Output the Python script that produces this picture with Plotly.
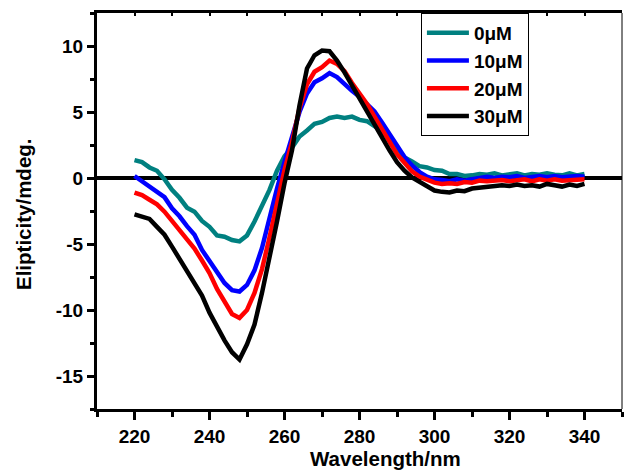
import plotly.graph_objects as go

wavelength = list(range(220, 341, 2))

c0uM = [1.35, 1.2, 0.8, 0.55, -0.1, -0.9, -1.5, -2.25, -2.55, -3.25,
        -3.7, -4.35, -4.45, -4.7, -4.8, -4.35, -3.3, -2.1, -0.9, 0.55,
        1.65, 2.3, 3.15, 3.6, 4.1, 4.25, 4.55, 4.65, 4.55, 4.65,
        4.4, 4.3, 3.9, 3.55, 2.95, 2.25, 1.55, 1.25, 0.9, 0.8,
        0.6, 0.55, 0.3, 0.3, 0.15, 0.2, 0.3, 0.25, 0.35, 0.2,
        0.3, 0.35, 0.2, 0.3, 0.25, 0.35, 0.25, 0.2, 0.35, 0.2, 0.3]

c10uM = [0.15, -0.25, -0.6, -1.1, -1.45, -2.3, -2.9, -3.65, -4.3, -5.45,
         -6.3, -7.25, -7.95, -8.5, -8.6, -8.1, -7.0, -5.3, -3.0, -0.8,
         1.2, 3.0, 5.0, 6.4, 7.25, 7.55, 7.95, 7.65, 7.1, 6.6,
         6.15, 5.6, 5.05, 4.2, 3.3, 2.35, 1.6, 0.95, 0.45, 0.1,
         -0.1, -0.15, -0.25, -0.1, -0.2, -0.1, 0.0, 0.1, 0.0, 0.1,
         0.05, 0.15, 0.0, 0.05, 0.15, 0.05, 0.15, 0.05, 0.1, 0.15, 0.1]

c20uM = [-1.1, -1.3, -1.65, -2.0, -2.55, -3.2, -3.95, -4.65, -5.35, -6.25,
         -7.2, -8.4, -9.4, -10.3, -10.6, -10.0, -8.7, -6.9, -4.5, -1.9,
         0.6, 2.7, 5.3, 7.1, 8.05, 8.4, 8.9, 8.65, 8.1, 7.2,
         6.4, 5.6, 4.65, 3.75, 2.7, 1.8, 1.15, 0.5, 0.1, -0.15,
         -0.35, -0.45, -0.4, -0.45, -0.3, -0.35, -0.2, -0.25, -0.2, -0.15,
         -0.25, -0.15, -0.1, -0.25, -0.1, -0.2, -0.1, -0.2, -0.15, -0.1, -0.1]

c30uM = [-2.75, -2.9, -3.1, -3.7, -4.3, -5.2, -6.1, -6.95, -7.9, -8.9,
         -10.2, -11.3, -12.3, -13.2, -13.75, -12.6, -11.1, -8.7, -6.1, -3.3,
         -0.4, 2.1, 5.5, 8.3, 9.3, 9.65, 9.6, 8.9, 8.0, 7.0,
         6.05, 4.95, 4.05, 3.1, 2.1, 1.2, 0.55, 0.05, -0.3, -0.6,
         -0.95, -1.05, -1.1, -0.95, -1.0, -0.8, -0.75, -0.65, -0.65, -0.55,
         -0.6, -0.5, -0.6, -0.55, -0.65, -0.45, -0.55, -0.65, -0.5, -0.6, -0.45]

series_names = ["0μM", "10μM", "20μM", "30μM"]
series_values = [c0uM, c10uM, c20uM, c30uM]
series_colors = ["#008080", "#0000FF", "#FF0000", "#000000"]

x_ticks = [220, 240, 260, 280, 300, 320, 340]
y_ticks = [-15, -10, -5, 0, 5, 10]

FONT = "Arial, Liberation Sans, sans-serif"

fig = go.Figure()
for name, vals, col in zip(series_names, series_values, series_colors):
    fig.add_trace(go.Scatter(x=wavelength, y=vals, mode="lines", name=name,
                             line=dict(color=col, width=4.5)))

fig.update_layout(
    width=624, height=472,
    margin=dict(l=97, r=2, t=13, b=63),
    paper_bgcolor="white", plot_bgcolor="white",
    font=dict(family=FONT, color="black"),
    showlegend=True,
    legend=dict(x=0.617, y=1, xanchor="left", yanchor="top",
                bgcolor="white", bordercolor="black", borderwidth=1,
                font=dict(size=19, family=FONT, weight="bold", color="black"),
                itemwidth=42),
    xaxis=dict(range=[210, 350], tickvals=x_ticks, ticktext=[str(t) for t in x_ticks],
               showgrid=False, zeroline=False,
               showline=True, linecolor="black", linewidth=3,
               ticks="outside", ticklen=8, tickwidth=3, tickcolor="black",
               tickfont=dict(size=19, family=FONT, weight="bold"),
               minor=dict(dtick=10, tick0=210, ticks="outside", ticklen=5,
                          tickwidth=3, tickcolor="black")),
    xaxis2=dict(range=[210, 350], overlaying="x", side="top", anchor="y",
                showgrid=False, zeroline=False, showticklabels=False,
                showline=True, linecolor="black", linewidth=3,
                ticks="inside", ticklen=3, tickwidth=2, tickcolor="black",
                dtick=10, tick0=210),
    yaxis=dict(range=[-17.5, 12.5], tickvals=y_ticks, ticktext=[str(t) for t in y_ticks],
               showgrid=False,
               zeroline=True, zerolinecolor="black", zerolinewidth=4,
               showline=True, linecolor="black", linewidth=3,
               ticks="outside", ticklen=7, tickwidth=3, tickcolor="black",
               tickfont=dict(size=19, family=FONT, weight="bold"),
               minor=dict(dtick=2.5, tick0=-17.5, ticks="outside", ticklen=4,
                          tickwidth=3, tickcolor="black")),
    shapes=[dict(type="line", xref="x domain", yref="y domain",
                 x0=1, x1=1, y0=0, y1=1, line=dict(color="black", width=1))],
    annotations=[
        dict(text="Wavelength/nm", xref="paper", yref="paper",
             x=(385 - 97) / 525, y=-(458 - 409) / 396, xanchor="center", yanchor="middle",
             showarrow=False, font=dict(size=20.5, family=FONT, weight="bold")),
        dict(text="Elipticity/mdeg.", xref="paper", yref="paper",
             x=(23 - 97) / 525, y=1 - (214 - 13) / 396, xanchor="center", yanchor="middle",
             textangle=-90, showarrow=False,
             font=dict(size=20.5, family=FONT, weight="bold")),
    ],
)

# invisible trace to activate the top axis
fig.add_trace(go.Scatter(x=[210], y=[0], xaxis="x2", mode="markers",
                         marker=dict(opacity=0), showlegend=False, hoverinfo="skip"))

fig.write_html("out.html")
